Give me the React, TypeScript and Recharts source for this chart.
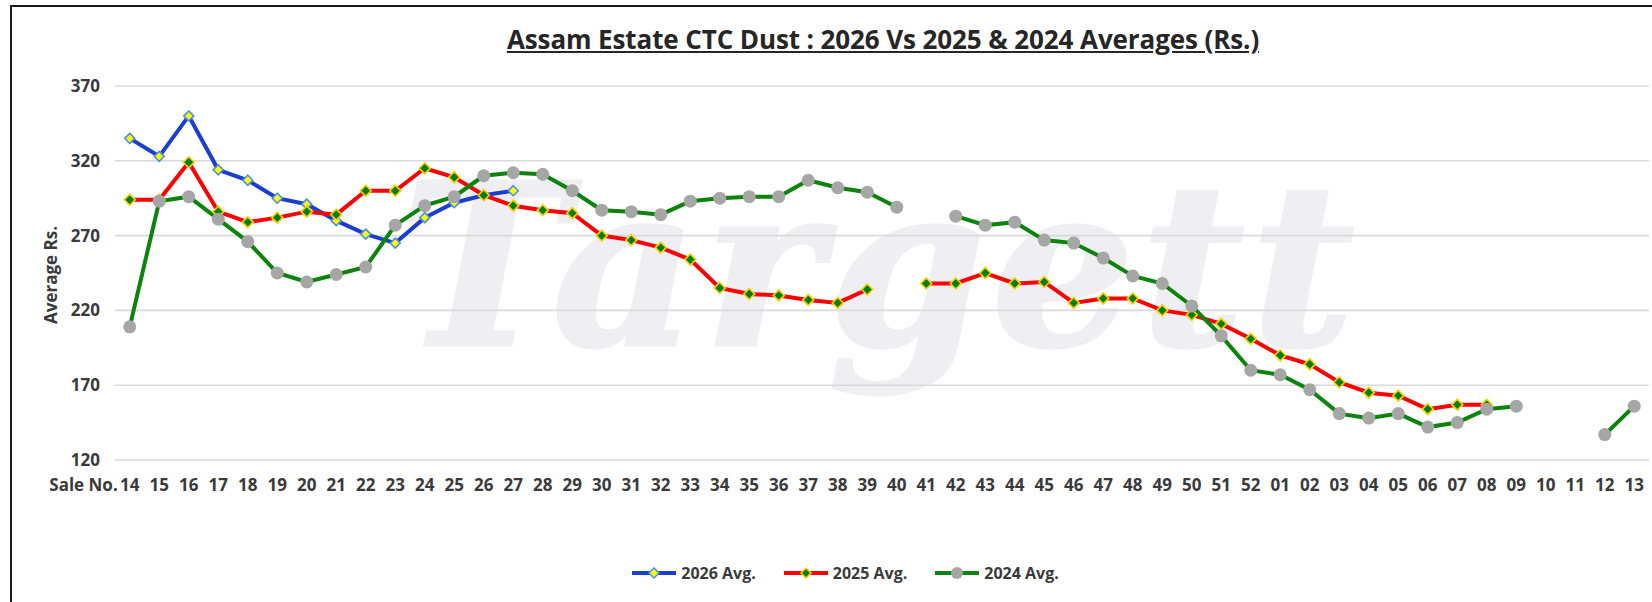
import { LineChart, Line, XAxis, YAxis, CartesianGrid } from 'recharts';

// sale numbers 14..52 of the previous season, then 01..13
const saleNos = [
	'14', '15', '16', '17', '18', '19', '20', '21', '22', '23', '24', '25', '26', '27', '28', '29', '30',
	'31', '32', '33', '34', '35', '36', '37', '38', '39', '40', '41', '42', '43', '44', '45', '46', '47',
	'48', '49', '50', '51', '52', '01', '02', '03', '04', '05', '06', '07', '08', '09', '10', '11', '12', '13',
];

const avg2026 = [335, 323, 350, 314, 307, 295, 291, 280, 271, 265, 282, 292, 297, 300];

const avg2025 = [
	294, 294, 319, 286, 279, 282, 286, 284, 300, 300, 315, 309, 297, 290, 287, 285, 270,
	267, 262, 254, 235, 231, 230, 227, 225, 234, null, 238, 238, 245, 238, 239, 225, 228,
	228, 220, 217, 211, 201, 190, 184, 172, 165, 163, 154, 157, 157, null, null, null, null, null,
];

const avg2024 = [
	209, 293, 296, 281, 266, 245, 239, 244, 249, 277, 290, 296, 310, 312, 311, 300, 287,
	286, 284, 293, 295, 296, 296, 307, 302, 299, 289, null, 283, 277, 279, 267, 265, 255,
	243, 238, 223, 203, 180, 177, 167, 151, 148, 151, 142, 145, 154, 156, null, null, 137, 156,
];

const yTicks = [120, 170, 220, 270, 320, 370];

const chartData = saleNos.map((sale, i) => ({
	sale,
	avg2026: avg2026[i] ?? null,
	avg2025: avg2025[i] ?? null,
	avg2024: avg2024[i] ?? null,
}));

const FONT = '"Open Sans", "Noto Sans", sans-serif';
const TEXT = '#3a3a3a';

const diamondDot = (key: string, fill: string, stroke: string, r: number) => (props: any) => {
	const { cx, cy, index, payload } = props;
	if (cx == null || cy == null || payload?.[key] == null) return <g key={`${key}-${index}`} />;
	return (
		<polygon
			key={`${key}-${index}`}
			points={`${cx},${cy - r} ${cx + r},${cy} ${cx},${cy + r} ${cx - r},${cy}`}
			fill={fill}
			stroke={stroke}
			strokeWidth={1.6}
		/>
	);
};

const XTick = (props: any) => {
	const { x, y, payload, index } = props;
	return (
		<g>
			{index === 0 && (
				<text x={x - 12} y={y + 31} textAnchor="end" fontFamily={FONT} fontWeight={700} fontSize={17} fill={TEXT}>
					Sale No.
				</text>
			)}
			<text x={x} y={y + 31} textAnchor="middle" fontFamily={FONT} fontWeight={700} fontSize={17} fill={TEXT}>
				{payload.value}
			</text>
		</g>
	);
};

const YTick = (props: any) => {
	const { x, y, payload } = props;
	return (
		<text x={x} y={y + 6} textAnchor="end" fontFamily={FONT} fontWeight={700} fontSize={17} fill={TEXT}>
			{payload.value}
		</text>
	);
};

const legendItems = [
	{ label: '2026 Avg.', color: '#1a3fd0', marker: 'diamond', fill: '#ffff00', stroke: '#4a90e2' },
	{ label: '2025 Avg.', color: '#ff0000', marker: 'diamond', fill: '#008000', stroke: '#ffd000' },
	{ label: '2024 Avg.', color: '#0a840a', marker: 'circle', fill: '#a6a6a6', stroke: 'none' },
];

export default function App() {
	return (
		<div style={{ position: 'absolute', left: 0, top: 0, width: 1652, height: 602, background: '#fff', overflow: 'hidden', fontFamily: FONT }}>
			{/* faint watermark */}
			<svg width={1652} height={602} style={{ position: 'absolute', left: 0, top: 0 }}>
				<text
					x={400}
					y={345}
					fontFamily='"DejaVu Serif", "Liberation Serif", serif'
					fontStyle="italic"
					fontWeight={700}
					fontSize={225}
					letterSpacing={6}
					fill="#efeff3"
					stroke="#efeff3"
					strokeWidth={3}
				>
					Targett
				</text>
			</svg>
			<div style={{ position: 'absolute', left: 10, top: 5, right: 0, bottom: 0, borderTop: '2px solid #1a1a1a', borderLeft: '2px solid #1a1a1a' }} />
			<div style={{ position: 'absolute', left: 383, top: 21, width: 1000, textAlign: 'center', fontSize: 26, fontWeight: 700, color: '#262626', textDecoration: 'underline', letterSpacing: -0.1 }}>
				Assam Estate CTC Dust : 2026 Vs 2025 &amp; 2024 Averages (Rs.)
			</div>
			<div style={{ position: 'absolute', left: 50, top: 275, transform: 'translate(-50%, -50%) rotate(-90deg)', fontSize: 17, fontWeight: 700, color: TEXT, whiteSpace: 'nowrap' }}>
				Average Rs.
			</div>
			<div style={{ position: 'absolute', left: 0, top: 0 }}>
				<LineChart width={1652} height={602} data={chartData} margin={{ top: 86, right: 3, bottom: 102, left: 15 }}>
					<CartesianGrid vertical={false} stroke="#d9d9d9" strokeWidth={1.6} />
					<XAxis
						dataKey="sale"
						interval={0}
						axisLine={false}
						tickLine={false}
						tickSize={0}
						tickMargin={0}
						height={40}
						padding={{ left: 14.75, right: 14.75 }}
						tick={<XTick />}
					/>
					<YAxis
						domain={[120, 370]}
						ticks={yTicks}
						width={100}
						axisLine={false}
						tickLine={false}
						tickSize={0}
						tickMargin={15}
						tick={<YTick />}
					/>
					<Line
						dataKey="avg2026"
						stroke="#1a3fd0"
						strokeWidth={4}
						isAnimationActive={false}
						dot={diamondDot('avg2026', '#ffff00', '#4a90e2', 5)}
					/>
					<Line
						dataKey="avg2025"
						stroke="#ff0000"
						strokeWidth={4}
						isAnimationActive={false}
						dot={diamondDot('avg2025', '#008000', '#ffd000', 5.5)}
					/>
					<Line
						dataKey="avg2024"
						stroke="#0a840a"
						strokeWidth={4}
						isAnimationActive={false}
						dot={{ r: 6.5, fill: '#a6a6a6', stroke: 'none' }}
					/>
				</LineChart>
			</div>
			<div style={{ position: 'absolute', left: 0, width: 1690, top: 562, display: 'flex', justifyContent: 'center', gap: 27 }}>
				{legendItems.map((item) => (
					<div key={item.label} style={{ display: 'flex', alignItems: 'center', gap: 4 }}>
						<svg width={46} height={14}>
							<line x1={1} y1={7} x2={45} y2={7} stroke={item.color} strokeWidth={4} />
							{item.marker === 'diamond' ? (
								<polygon points="23,2 28,7 23,12 18,7" fill={item.fill} stroke={item.stroke} strokeWidth={1.5} />
							) : (
								<circle cx={23} cy={7} r={6} fill={item.fill} />
							)}
						</svg>
						<span style={{ fontSize: 16, fontWeight: 700, color: TEXT }}>{item.label}</span>
					</div>
				))}
			</div>
		</div>
	);
}
